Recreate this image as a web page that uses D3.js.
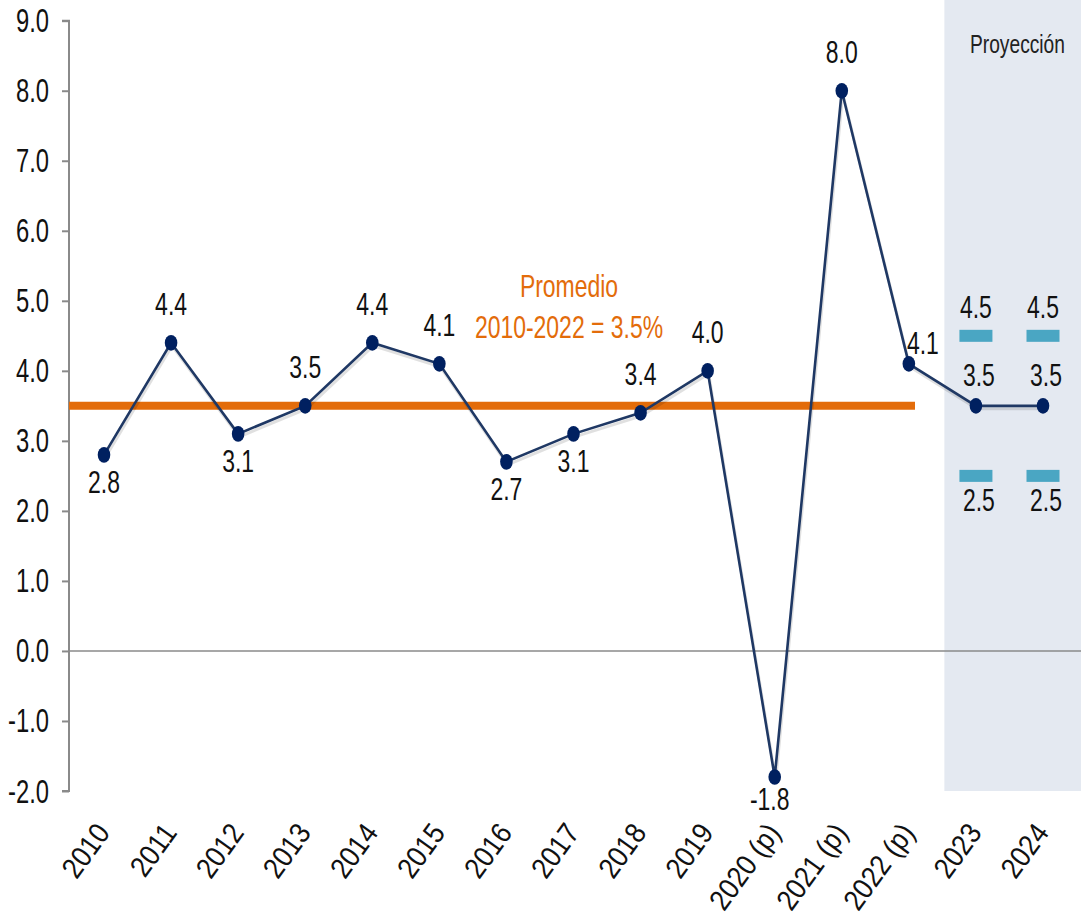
<!DOCTYPE html>
<html><head><meta charset="utf-8">
<script src="https://cdn.jsdelivr.net/npm/d3@7/dist/d3.min.js"></script>
<style>body{margin:0;background:#fff}svg{display:block}text{font-family:"Liberation Sans",Arial,sans-serif;}</style>
</head><body><svg id="c" width="1081" height="924"></svg>
<script>
const categories = ["2010","2011","2012","2013","2014","2015","2016","2017","2018","2019","2020 (p)","2021 (p)","2022 (p)","2023","2024"];
const growth = [2.8,4.4,3.1,3.5,4.4,4.1,2.7,3.1,3.4,4.0,-1.8,8.0,4.1,3.5,3.5];
const projCats = ["2023","2024"];
const projHigh = [4.5,4.5];
const projLow = [2.5,2.5];
const average = 3.5;
const avgLabel = ["Promedio","2010-2022 = 3.5%"];
const yTicks = [-2,-1,0,1,2,3,4,5,6,7,8,9];
const projTitle = "Proyección";
// label placement (presentation)
const labelSide = ["below","above","below","above","above","above","below","below","above","above","below","above","right","above","above"];

const svg = d3.select("#c");
const x = d3.scalePoint().domain(categories).range([104, 1043]);
const y = d3.scaleLinear().domain([-2, 9]).range([791, 20.7]);
const SX = 0.82, SY = 1.1;
const fmt = v => d3.format(".1f")(v).replace("\u2212", "-");

// shaded projection area
const shadeX = (x("2022 (p)") + x("2023")) / 2 + 2;
svg.append("rect").attr("x", shadeX).attr("y", 0).attr("width", 1081 - shadeX).attr("height", y(-2))
  .attr("fill", "#E4E9F1");
svg.append("text").attr("text-anchor", "middle").attr("font-size", 24).attr("fill", "#222")
  .attr("transform", `translate(${(x("2023") + x("2024")) / 2 + 8},53) scale(0.8,1.08)`).text(projTitle);

// zero line
svg.append("line").attr("x1", 69).attr("x2", 1081).attr("y1", y(0)).attr("y2", y(0))
  .attr("stroke", "#8a8a8a").attr("stroke-width", 1.6);

// y axis
const yAxis = d3.axisLeft(y).tickValues(yTicks).tickFormat(fmt).tickSize(7).tickPadding(13);
const ga = svg.append("g").attr("transform", "translate(69,0)").call(yAxis);
ga.select(".domain").attr("stroke", "#8a8a8a").attr("stroke-width", 2).attr("d", `M-7,${y(9)}H0V${y(-2)}H-7`);
ga.selectAll(".tick line").attr("stroke", "#8a8a8a").attr("stroke-width", 2);
ga.selectAll(".tick text").attr("font-size", 29).attr("fill", "#111").attr("dy", null)
  .attr("x", null).attr("y", 0).attr("transform", `translate(-20,11) scale(${SX},${SY + 0.05})`);

// average line
svg.append("line").attr("x1", 69).attr("x2", 915).attr("y1", y(average)).attr("y2", y(average))
  .attr("stroke", "#E36C0A").attr("stroke-width", 8);
svg.selectAll("text.avg").data(avgLabel).join("text").attr("class", "avg")
  .attr("text-anchor", "middle").attr("font-size", 28).attr("fill", "#E36C0A")
  .attr("transform", (d, i) => `translate(569,${i === 0 ? 297 : 338}) scale(${SX},${SY})`).text(d => d);

// line shadow + line
const pts = categories.map((c, i) => ({c, v: growth[i], side: labelSide[i]}));
const line = d3.line().x(d => x(d.c)).y(d => y(d.v));
svg.append("path").datum(pts).attr("d", line).attr("fill", "none").attr("stroke", "rgba(0,0,0,0.12)")
  .attr("stroke-width", 3).attr("transform", "translate(1,3)");
svg.append("path").datum(pts).attr("d", line).attr("fill", "none").attr("stroke", "#1F3864").attr("stroke-width", 2.6);
svg.selectAll("ellipse.pt").data(pts).join("ellipse").attr("class", "pt")
  .attr("cx", d => x(d.c)).attr("cy", d => y(d.v)).attr("rx", 6.3).attr("ry", 7.8).attr("fill", "#002060");

// projection range dashes
const rng = projCats.flatMap((c, i) => [{c, v: projHigh[i], hi: true}, {c, v: projLow[i], hi: false}]);
svg.selectAll("rect.rng").data(rng).join("rect").attr("class", "rng")
  .attr("x", d => x(d.c) - 16.5).attr("y", d => y(d.v) - 6).attr("width", 33).attr("height", 12)
  .attr("fill", "#4AA6C3");
svg.selectAll("text.rng").data(rng).join("text").attr("class", "rng")
  .attr("text-anchor", "middle").attr("font-size", 28).attr("fill", "#111")
  .attr("transform", d => `translate(${x(d.c) + (d.hi ? 0 : 3)},${y(d.v) + (d.hi ? -18 : 35)}) scale(${SX},${SY})`)
  .text(d => fmt(d.v));

// data labels
svg.selectAll("text.lbl").data(pts).join("text").attr("class", "lbl")
  .attr("text-anchor", "middle").attr("font-size", 28).attr("fill", "#111")
  .attr("transform", (d, i) => {
    let dx = 0, dy;
    if (d.side === "above") dy = -28;
    else if (d.side === "below") dy = 38;
    else { dx = 14; dy = -10; }
    if (d.v < 0) { dx = -5; dy = 33; }
    if (i >= 13) { dy = -20; dx = 3; }
    return `translate(${x(d.c) + dx},${y(d.v) + dy}) scale(${SX},${SY})`;
  })
  .text(d => fmt(d.v));

// x axis labels
svg.selectAll("text.xl").data(categories).join("text").attr("class", "xl")
  .attr("text-anchor", "end").attr("font-size", 28).attr("fill", "#111")
  .attr("transform", d => `translate(${x(d) + 7},${833}) rotate(-54) scale(0.94,1.05)`)
  .text(d => d);
</script></body></html>
